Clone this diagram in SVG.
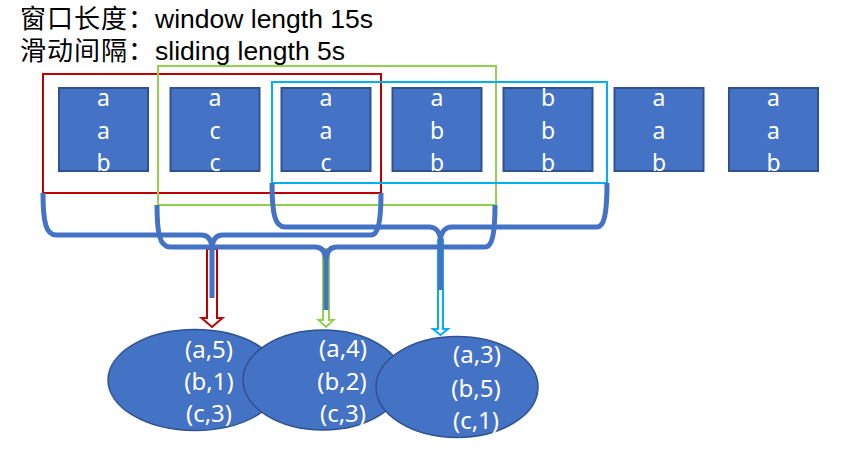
<svg xmlns="http://www.w3.org/2000/svg" width="845" height="470" viewBox="0 0 845 470">
<defs>
<style>
.bg{fill:#ffffff}
.box{fill:#4472C4;stroke:#2F528F;stroke-width:2}
.boxt{font-family:"Noto Sans","Noto Sans CJK SC",sans-serif;font-size:23px;fill:#ffffff;text-anchor:middle}
.title{font-family:"Liberation Sans","Noto Sans CJK SC",sans-serif;fill:#000000}
.cjk{font-size:26px;letter-spacing:1px}
.lat{font-size:26.5px;letter-spacing:0}
.win{fill:none;stroke-width:2}
.brace{fill:none;stroke:#4472C4;stroke-width:5;stroke-linecap:butt;stroke-linejoin:round}
.arr{fill:#ffffff;stroke-width:2;stroke-linejoin:miter}
.ell{fill:#4472C4;stroke:#2F528F;stroke-width:1.5}
.ellt{font-family:"Noto Sans","Noto Sans CJK SC",sans-serif;font-size:24px;fill:#ffffff;text-anchor:middle}
</style>
</defs>
<rect class="bg" x="0" y="0" width="845" height="470"/>

<g id="title">
<text class="title" y="28"><tspan class="cjk" x="20">窗口长度：</tspan><tspan class="lat" x="155">window length 15s</tspan></text>
<text class="title" y="60"><tspan class="cjk" x="20">滑动间隔：</tspan><tspan class="lat" x="155">sliding length 5s</tspan></text>
</g>

<g id="box1"><rect class="box" x="59" y="88" width="89" height="83"/><text class="boxt"><tspan x="103.5" y="106">a</tspan><tspan x="103.5" y="138.5">a</tspan><tspan x="103.5" y="171">b</tspan></text></g>
<g id="box2"><rect class="box" x="170.5" y="88" width="89" height="83"/><text class="boxt"><tspan x="215" y="106">a</tspan><tspan x="215" y="138.5">c</tspan><tspan x="215" y="171">c</tspan></text></g>
<g id="box3"><rect class="box" x="281.5" y="88" width="89" height="83"/><text class="boxt"><tspan x="326" y="106">a</tspan><tspan x="326" y="138.5">a</tspan><tspan x="326" y="171">c</tspan></text></g>
<g id="box4"><rect class="box" x="392.5" y="88" width="89" height="83"/><text class="boxt"><tspan x="437" y="106">a</tspan><tspan x="437" y="138.5">b</tspan><tspan x="437" y="171">b</tspan></text></g>
<g id="box5"><rect class="box" x="503.5" y="88" width="89" height="83"/><text class="boxt"><tspan x="548" y="106">b</tspan><tspan x="548" y="138.5">b</tspan><tspan x="548" y="171">b</tspan></text></g>
<g id="box6"><rect class="box" x="614.5" y="88" width="89" height="83"/><text class="boxt"><tspan x="659" y="106">a</tspan><tspan x="659" y="138.5">a</tspan><tspan x="659" y="171">b</tspan></text></g>
<g id="box7"><rect class="box" x="729" y="88" width="89" height="83"/><text class="boxt"><tspan x="773.5" y="106">a</tspan><tspan x="773.5" y="138.5">a</tspan><tspan x="773.5" y="171">b</tspan></text></g>

<g id="windows">
<rect id="window-red" class="win" stroke="#C00000" x="43" y="74" width="338" height="119"/>
<rect id="window-green" class="win" stroke="#92D050" x="158" y="66" width="338" height="139"/>
<rect id="window-blue" class="win" stroke="#00B0F0" x="272" y="82" width="335" height="101"/>
</g>

<g id="connectors">
<polygon class="arr" stroke="#C00000" points="207,249 207,318 201.5,318 212,327 222.5,318 217,318 217,249"/>
<polygon class="arr" stroke="#92D050" points="323,249 323,320 318.5,320 326,327 333.5,320 329,320 329,249"/>
<polygon class="arr" stroke="#00B0F0" points="438,240 438,329 433,329 440.5,335 448,329 443,329 443,240"/>

<path class="brace" d="M43,193 C43,222 46,235 56,235 L201,235 C208,235 212,240 212,250 L212,298 M212,250 C212,240 216,235 223,235 L371,235 C378,235 381,222 381,193"/>
<path class="brace" d="M157,205 C157,234 160,247 170,247 L315,247 C322,247 326,252 326,262 L326,310 M326,262 C326,252 330,247 337,247 L485,247 C492,247 495,234 495,205"/>
<path class="brace" d="M272,183 C272,214 275,227 285,227 L429,227 C436,227 440.5,232 440.5,242 L440.5,290 M440.5,242 C440.5,232 445,227 452,227 L597,227 C604,227 607,214 607,183"/>
</g>

<g id="result1"><ellipse class="ell" cx="195" cy="380" rx="87" ry="50.5"/><text class="ellt"><tspan x="209" y="358">(a,5)</tspan><tspan x="209" y="390">(b,1)</tspan><tspan x="209" y="422">(c,3)</tspan></text></g>
<g id="result2"><ellipse class="ell" cx="323" cy="380" rx="80" ry="50"/><text class="ellt"><tspan x="343" y="357">(a,4)</tspan><tspan x="342" y="390">(b,2)</tspan><tspan x="343" y="422">(c,3)</tspan></text></g>
<g id="result3"><ellipse class="ell" cx="457" cy="387" rx="81" ry="50.5"/><text class="ellt"><tspan x="477" y="363">(a,3)</tspan><tspan x="476" y="397">(b,5)</tspan><tspan x="476" y="429">(c,1)</tspan></text></g>
</svg>
